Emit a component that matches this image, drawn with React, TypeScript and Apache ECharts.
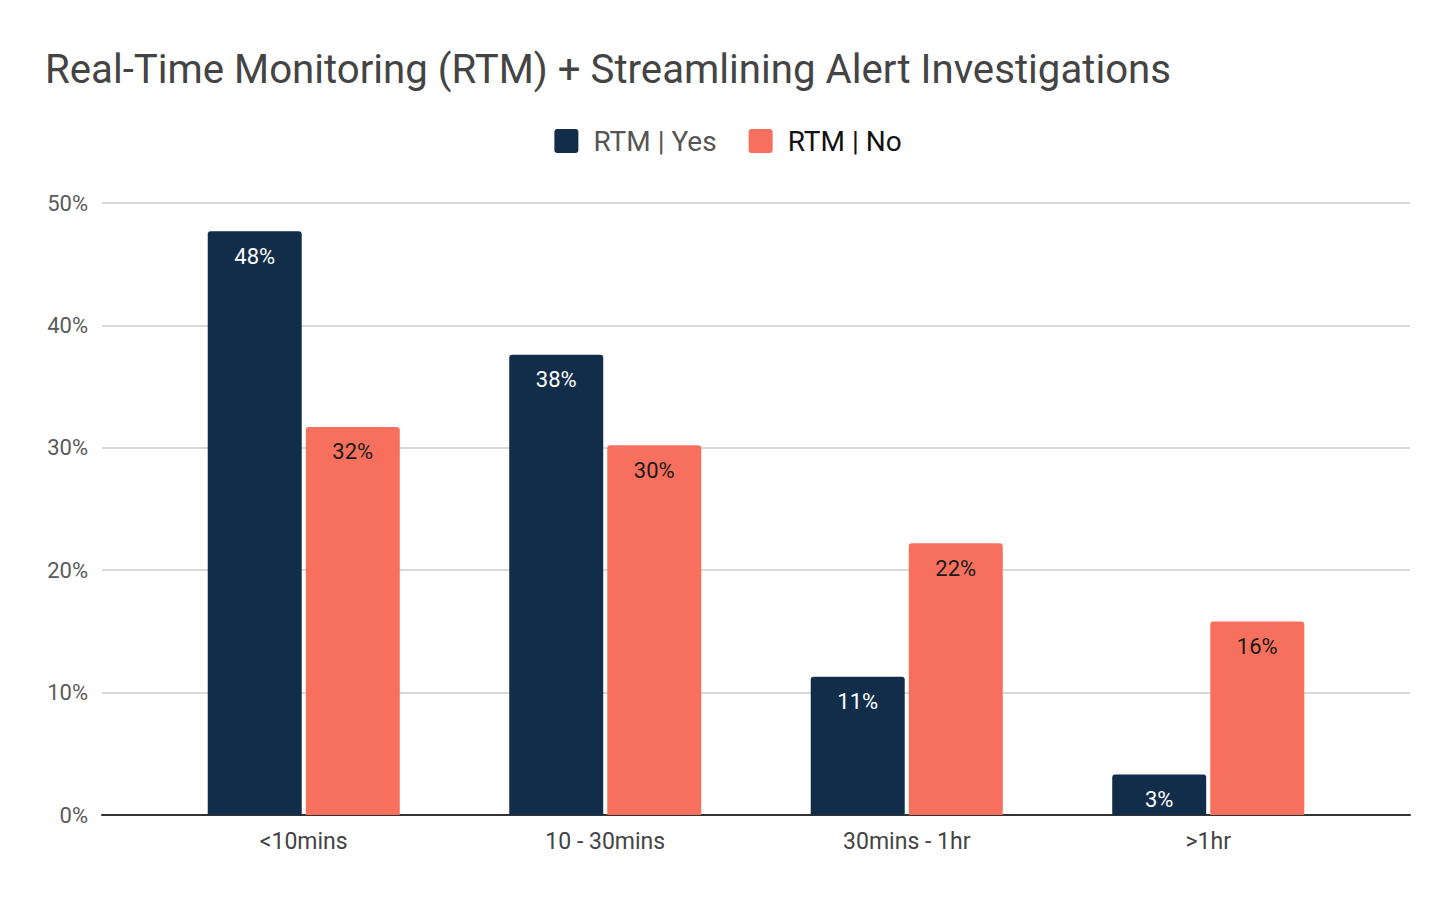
import { useEffect, useRef } from "react";
import * as echarts from "echarts";

const categories = ["<10mins", "10 - 30mins", "30mins - 1hr", ">1hr"];
const rtmYes = [47.7, 37.6, 11.3, 3.3];
const rtmNo = [31.7, 30.2, 22.2, 15.8];
const yTicks = [0, 10, 20, 30, 40, 50];

export default function App() {
  const ref = useRef<HTMLDivElement | null>(null);

  useEffect(() => {
    document.body.style.margin = "0";
    if (!ref.current) {
      return;
    }
    const chart = echarts.init(ref.current, undefined, { renderer: "svg" });

    const font = "Roboto";
    const labelFmt = (p: { value: number }) => `${Math.round(p.value)}%`;

    chart.setOption({
      animation: false,
      backgroundColor: "#ffffff",
      color: ["#112d4a", "#f6705d"],
      textStyle: { fontFamily: font },
      title: {
        text: "Real-Time Monitoring (RTM) + Streamlining Alert Investigations",
        left: 40,
        top: 44,
        textStyle: {
          color: "#444444",
          fontFamily: font,
          fontSize: 40.2,
          fontWeight: "normal"
        }
      },
      legend: {
        top: 122,
        left: "center",
        itemWidth: 24,
        itemHeight: 24,
        itemGap: 32,
        icon: "path://M3,0 H21 Q24,0 24,3 V21 Q24,24 21,24 H3 Q0,24 0,21 V3 Q0,0 3,0 Z",
        textStyle: {
          fontFamily: font,
          fontSize: 28,
          color: "#444444",
          padding: [0, 0, 0, 10]
        },
        data: [
          { name: "RTM | Yes", textStyle: { color: "#555555" } },
          { name: "RTM | No", textStyle: { color: "#111111" } }
        ]
      },
      grid: [
        { left: 102, right: 46, top: 203, bottom: 85 },
        { left: 153, right: 97, top: 203, bottom: 85 }
      ],
      xAxis: [
        {
          type: "value",
          gridIndex: 0,
          min: 0,
          max: 1,
          axisLine: { show: true, lineStyle: { color: "#333333", width: 2 } },
          axisTick: { show: false },
          axisLabel: { show: false },
          splitLine: { show: false }
        },
        {
          type: "category",
          gridIndex: 1,
          data: categories,
          axisLine: { show: false },
          axisTick: { show: false },
          axisLabel: {
            color: "#444444",
            fontFamily: font,
            fontSize: 23,
            margin: 15
          }
        }
      ],
      yAxis: [
        {
          type: "value",
          gridIndex: 0,
          min: yTicks[0],
          max: yTicks[yTicks.length - 1],
          interval: yTicks[1] - yTicks[0],
          axisLine: { show: false },
          axisTick: { show: false },
          axisLabel: {
            formatter: "{value}%",
            color: "#5a5a5a",
            fontFamily: font,
            fontSize: 22,
            margin: 14
          },
          splitLine: { lineStyle: { color: "#cccccc", width: 1.5 } }
        },
        {
          type: "value",
          gridIndex: 1,
          min: yTicks[0],
          max: yTicks[yTicks.length - 1],
          show: false
        }
      ],
      series: [
        {
          name: "RTM | Yes",
          type: "bar",
          xAxisIndex: 1,
          yAxisIndex: 1,
          data: rtmYes,
          barWidth: 94,
          barGap: "4.3%",
          itemStyle: { color: "#112d4a", borderRadius: [3, 3, 0, 0] },
          label: {
            show: true,
            position: "insideTop",
            distance: 14,
            color: "#ffffff",
            fontFamily: font,
            fontSize: 22,
            formatter: labelFmt
          }
        },
        {
          name: "RTM | No",
          type: "bar",
          xAxisIndex: 1,
          yAxisIndex: 1,
          data: rtmNo,
          barWidth: 94,
          barGap: "4.3%",
          itemStyle: { color: "#f6705d", borderRadius: [3, 3, 0, 0] },
          label: {
            show: true,
            position: "insideTop",
            distance: 14,
            color: "#1a1a1a",
            fontFamily: font,
            fontSize: 22,
            formatter: labelFmt
          }
        }
      ]
    });

    return () => {
      chart.dispose();
    };
  }, []);

  return <div ref={ref} style={{ width: 1456, height: 900 }} />;
}
